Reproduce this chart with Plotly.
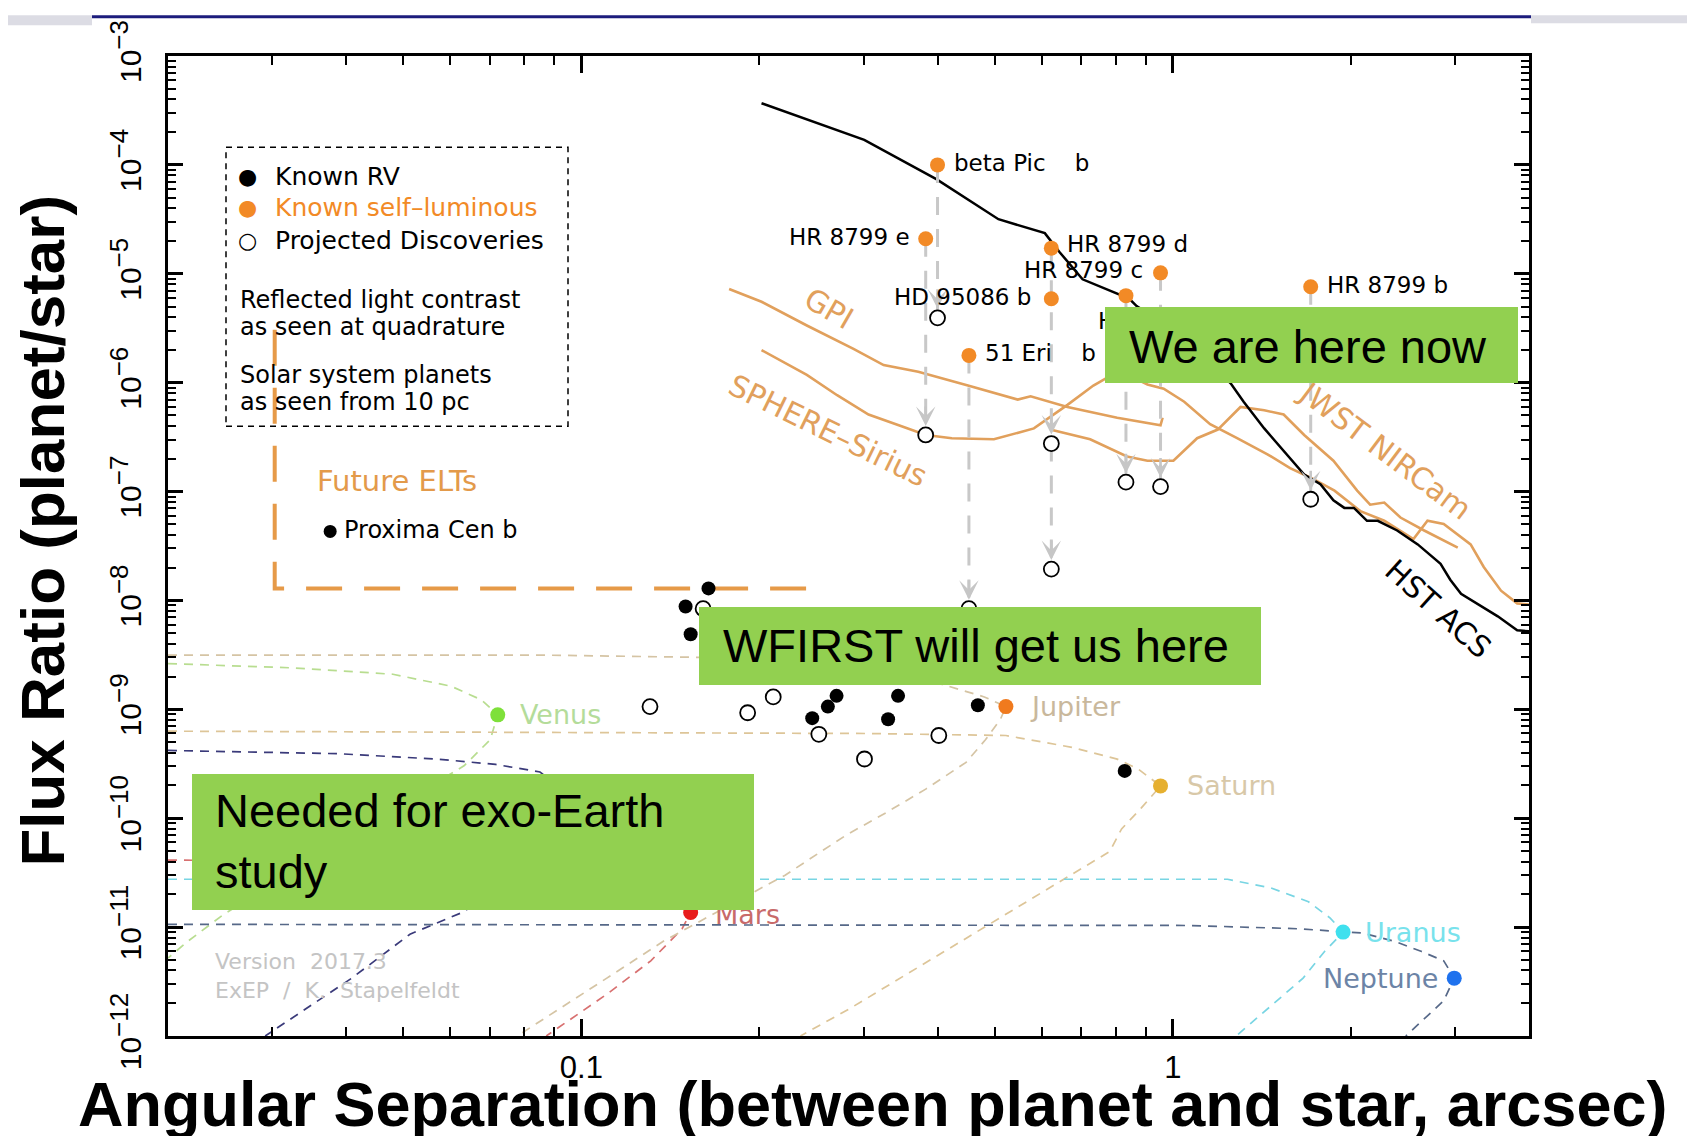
import numpy as np
import plotly.graph_objects as go

# ---------------- data: angular separation (arcsec) and flux ratio (planet/star) ----------------
# Known RV planets (reflected light at quadrature)
rv_sep = [0.164, 0.150, 0.153, 0.270, 0.261, 0.2456, 0.343, 0.330, 0.468, 0.829]
rv_con = [1.29e-8, 8.8e-9, 4.9e-9, 1.33e-9, 1.06e-9, 8.3e-10, 1.33e-9, 8.1e-10, 1.09e-9, 2.72e-10]

# Future ELTs target
prox_name = "Proxima Cen b"
prox_sep = [0.0376]
prox_con = [4.3e-8]

# Known self-luminous planets
sl_names = ["beta Pic\u00a0\u00a0\u00a0\u00a0b", "HR 8799 e", "HR 8799 d", "HR 8799 c",
            "HD 95086 b", "HR 8799 b", "HIP 65426 b", "51 Eri\u00a0\u00a0\u00a0\u00a0b"]
sl_sep = [0.40, 0.382, 0.623, 0.953, 0.623, 1.71, 0.833, 0.452]
sl_con = [1.0e-4, 2.1e-5, 1.72e-5, 1.02e-5, 5.9e-6, 7.6e-6, 6.3e-6, 1.78e-6]

# Projected discoveries (open circles)
proj_sep = [0.40, 0.382, 0.623, 0.623, 0.452, 0.833, 0.953, 1.71,
            0.1606, 0.1306, 0.191, 0.211, 0.252, 0.301, 0.402]
proj_con = [3.94e-6, 3.31e-7, 2.76e-7, 1.94e-8, 8.4e-9, 1.22e-7, 1.11e-7, 8.5e-8,
            8.4e-9, 1.06e-9, 9.3e-10, 1.30e-9, 5.9e-10, 3.5e-10, 5.75e-10]

# Drops from self-luminous contrast to reflected-light contrast
drop_sep = [0.40, 0.382, 0.623, 0.623, 0.452, 0.833, 0.953, 1.71]
drop_from = [1.0e-4, 2.1e-5, 1.72e-5, 2.76e-7, 1.78e-6, 6.3e-6, 1.02e-5, 7.6e-6]
drop_to = [3.94e-6, 3.31e-7, 2.76e-7, 1.94e-8, 8.4e-9, 1.22e-7, 1.11e-7, 8.5e-8]

# Solar system planets seen from 10 pc
planet_names = ["Venus", "Earth", "Mars", "Jupiter", "Saturn", "Uranus", "Neptune"]
planet_sep = [0.0722, 0.100, 0.153, 0.522, 0.953, 1.94, 2.99]
planet_con = [8.9e-10, 1.0e-10, 1.36e-11, 1.06e-9, 1.98e-10, 9.0e-12, 3.4e-12]

venus_sep = [0.02, 0.0327, 0.048, 0.0602, 0.0678, 0.0722, 0.0701, 0.0634, 0.0248, 0.0216, 0.02]
venus_con = [2.63e-9, 2.40e-9, 2.10e-9, 1.63e-9, 1.22e-9, 8.9e-10, 5.25e-10, 3.05e-10, 1.30e-11, 7.4e-12, 5.2e-12]
earth_sep = [0.02, 0.039, 0.0571, 0.0716, 0.0851, 0.0969, 0.100, 0.0634, 0.0513, 0.0409, 0.0292]
earth_con = [4.19e-10, 3.91e-10, 3.49e-10, 3.12e-10, 2.66e-10, 1.58e-10, 1.0e-10, 1.39e-11, 8.6e-12, 3.4e-12, 1.0e-12]
mars_sep = [0.02, 0.0855, 0.130, 0.1477, 0.153, 0.148, 0.131, 0.1104, 0.0872]
mars_con = [4.13e-11, 3.86e-11, 2.57e-11, 1.63e-11, 1.36e-11, 9.66e-12, 4.9e-12, 2.42e-12, 1.0e-12]
jup_sep = [0.02, 0.0855, 0.198, 0.302, 0.405, 0.48, 0.522, 0.511, 0.482, 0.447, 0.382,
           0.327, 0.280, 0.221, 0.1925, 0.138, 0.1104, 0.0779]
jup_con = [3.15e-9, 3.15e-9, 2.95e-9, 2.41e-9, 1.71e-9, 1.30e-9, 1.06e-9, 8.1e-10, 5.25e-10, 3.26e-10, 1.85e-10,
           1.12e-10, 6.97e-11, 3.0e-11, 2.0e-11, 7.5e-12, 3.4e-12, 1.0e-12]
sat_sep = [0.02, 0.302, 0.522, 0.675, 0.805, 0.872, 0.953, 0.883, 0.819, 0.782, 0.285, 0.2346]
sat_con = [6.3e-10, 6.0e-10, 5.75e-10, 4.48e-10, 3.49e-10, 2.85e-10, 1.98e-10, 1.23e-10, 7.98e-11, 4.95e-11, 1.8e-12, 1.0e-12]
ura_sep = [0.02, 1.237, 1.464, 1.695, 1.845, 1.94, 1.806, 1.66, 1.279]
ura_con = [2.75e-11, 2.75e-11, 2.29e-11, 1.71e-11, 1.21e-11, 9.0e-12, 6.0e-12, 3.4e-12, 1.0e-12]
nep_sep = [0.02, 1.067, 1.626, 2.093, 2.375, 2.627, 2.870, 2.99, 2.870, 2.476]
nep_con = [1.06e-11, 1.035e-11, 9.66e-12, 8.83e-12, 7.37e-12, 6.0e-12, 4.9e-12, 3.4e-12, 2.11e-12, 1.0e-12]

# Future ELTs region boundary
elt_sep = [0.0303, 0.0303, 0.2446]
elt_con = [3.06e-6, 1.29e-8, 1.29e-8]

# Instrument contrast curves
hst_sep = [0.2016, 0.3007, 0.3988, 0.507, 0.6074, 0.644, 0.7035, 0.8433, 0.8683, 1.067, 1.252, 1.317,
           1.427, 1.539, 1.667, 1.776, 1.868, 1.949, 2.023, 2.129, 2.22, 2.394, 2.594, 2.835, 2.944,
           3.07, 3.269, 3.542, 3.82, 4.0]
hst_con = [3.68e-4, 1.70e-4, 7.35e-5, 3.17e-5, 2.36e-5, 1.57e-5, 8.9e-6, 5.92e-6, 5.05e-6, 2.44e-6, 9.85e-7, 6.69e-7,
           3.8e-7, 2.36e-7, 1.43e-7, 1.17e-7, 8.3e-8, 7.08e-8, 7.08e-8, 5.39e-8, 5.39e-8, 4.39e-8, 3.27e-8, 2.17e-8, 1.55e-8,
           1.15e-8, 9.4e-9, 7.15e-9, 5.32e-9, 5.2e-9]
gpi_sep = [0.1777, 0.2016, 0.2405, 0.2884, 0.3243, 0.3711, 0.4503, 0.5466, 0.5747, 0.6633, 0.805, 0.9173, 0.953, 0.9607]
gpi_con = [7.26e-6, 5.53e-6, 3.35e-6, 2.04e-6, 1.45e-6, 1.26e-6, 9.41e-7, 7.0e-7, 7.5e-7, 5.98e-7, 4.76e-7, 4.25e-7, 4.06e-7, 4.76e-7]
sphere_sep = [0.2016, 0.2405, 0.2706, 0.3058, 0.3440, 0.3823, 0.4229, 0.4982, 0.5821, 0.6633, 0.7338, 0.8119,
              0.9057, 0.9647, 1.045, 1.156, 1.284, 1.445, 1.578, 1.71, 1.876, 2.075, 2.277, 2.551, 2.694,
              2.870, 3.187, 3.354, 3.587, 3.82, 4.0]
sphere_con = [1.99e-6, 1.18e-6, 7.67e-7, 5.10e-7, 4.06e-7, 3.31e-7, 3.09e-7, 3.02e-7, 3.80e-7, 6.25e-7, 9.41e-7, 1.29e-6,
              9.62e-7, 8.79e-7, 6.69e-7, 4.16e-7, 3.09e-7, 2.20e-7, 1.64e-7, 1.34e-7, 1.02e-7, 6.61e-8, 5.39e-8, 3.66e-8, 5.39e-8,
              5.03e-8, 3.27e-8, 2.03e-8, 1.23e-8, 9.4e-9, 9.17e-9]
jwst_sep = [0.620, 0.7246, 0.8363, 0.9057, 1.002, 1.099, 1.191, 1.301, 1.427, 1.539, 1.667, 1.868,
            2.049, 2.155, 2.277, 2.425, 2.660, 3.031]
jwst_con = [3.71e-7, 3.02e-7, 2.10e-7, 1.92e-7, 1.92e-7, 3.09e-7, 3.71e-7, 5.98e-7, 5.58e-7, 5.10e-7, 3.31e-7, 1.92e-7,
            1.02e-7, 7.57e-8, 7.93e-8, 5.77e-8, 4.39e-8, 3.05e-8]

# Axis ticks
x_major = [0.1, 1.0]
x_ticktext = ["0.1", "1"]
y_major = [1e-12, 1e-11, 1e-10, 1e-9, 1e-8, 1e-7, 1e-6, 1e-5, 1e-4, 1e-3]
y_exponents = ["−12", "−11", "−10", "−9", "−8", "−7", "−6", "−5", "−4", "−3"]

# ---------------- helpers (window pixel -> paper) ----------------
PAGE_OFF = 8                      # default page body margin
W, H = 1695 - 2 * PAGE_OFF, 1144 - 2 * PAGE_OFF
L, R, T, B = 168, 1529, 49, 1036  # plot frame in window pixels


def fx(p):
    return (p - L) / (R - L)


def fy(p):
    return (B - p) / (B - T)


FONT = "DejaVu Sans"
ARIAL = "Liberation Sans, Arial"
ORANGE_CURVE = "#E1A05C"
SL_ORANGE = "#F28A26"

fig = go.Figure()


def add_line(x, y, color, width, dash=None):
    fig.add_trace(go.Scatter(x=x, y=y, mode="lines",
                             line=dict(color=color, width=width, dash=dash),
                             hoverinfo="skip", showlegend=False))


# planet phase curves
curve_styles = [
    (venus_sep, venus_con, "#B8DD90"),
    (earth_sep, earth_con, "#3A3A7A"),
    (mars_sep, mars_con, "#D87070"),
    (jup_sep, jup_con, "#D5C4A4"),
    (sat_sep, sat_con, "#DDC598"),
    (ura_sep, ura_con, "#78D5E3"),
    (nep_sep, nep_con, "#566888"),
]
for xs, ys, col in curve_styles:
    add_line(xs, ys, col, 1.7, "9px,7px")

# future ELTs region
add_line(elt_sep, elt_con, "#E69A48", 4, "36px,22px")

# instrument curves
add_line(gpi_sep, gpi_con, ORANGE_CURVE, 2.6)
add_line(sphere_sep, sphere_con, ORANGE_CURVE, 2.6)
add_line(jwst_sep, jwst_con, ORANGE_CURVE, 2.6)
add_line(hst_sep, hst_con, "black", 2.5)

# gray drops
for s, f, t in zip(drop_sep, drop_from, drop_to):
    add_line([s, s], [f, t], "#C8C8C8", 3, "18px,14px")

# markers
fig.add_trace(go.Scatter(x=proj_sep, y=proj_con, mode="markers",
                         marker=dict(symbol="circle", size=15, color="white",
                                     line=dict(color="black", width=1.8)),
                         hoverinfo="skip", showlegend=False))
fig.add_trace(go.Scatter(x=rv_sep, y=rv_con, mode="markers",
                         marker=dict(size=14, color="black"), hoverinfo="skip", showlegend=False))
fig.add_trace(go.Scatter(x=prox_sep, y=prox_con, mode="markers",
                         marker=dict(size=13, color="black"), hoverinfo="skip", showlegend=False))
fig.add_trace(go.Scatter(x=sl_sep, y=sl_con, mode="markers",
                         marker=dict(size=15, color=SL_ORANGE), hoverinfo="skip", showlegend=False))
planet_colors = ["#7EE03A", "#2E56C8", "#E81C1C", "#F07A1E", "#E6B030", "#3FE0EE", "#1F72EE"]
fig.add_trace(go.Scatter(x=planet_sep, y=planet_con, mode="markers",
                         marker=dict(size=15, color=planet_colors), hoverinfo="skip", showlegend=False))

ann = []

# arrowheads onto projected discoveries
for s, t in zip(drop_sep, drop_to):
    ann.append(dict(x=np.log10(s), y=np.log10(t), xref="x", yref="y", text="",
                    showarrow=True, ax=0, ay=-30, arrowhead=3, arrowsize=1.25, arrowwidth=2.6,
                    arrowcolor="#C6C6C6", standoff=9))

# self-luminous labels
sl_label_pos = [("left", 14, 2), ("right", -14, 2), ("left", 14, 4), ("right", -16, 3),
                ("right", -18, 2), ("left", 14, 2), ("left", -30, -25), ("left", 14, 2)]
for name, s, c, (anc, dx, dy) in zip(sl_names, sl_sep, sl_con, sl_label_pos):
    ann.append(dict(x=np.log10(s), y=np.log10(c), xref="x", yref="y", text=name, showarrow=False,
                    xanchor=anc, yanchor="middle", xshift=dx, yshift=dy,
                    font=dict(family=FONT, size=23, color="black")))

# Proxima label
ann.append(dict(x=np.log10(prox_sep[0]), y=np.log10(prox_con[0]), xref="x", yref="y", text=prox_name,
                showarrow=False, xanchor="left", yanchor="middle", xshift=12, yshift=1,
                font=dict(family=FONT, size=24, color="black")))

# planet labels
planet_label_colors = ["#B4DC9A", "#6070B0", "#C86A6A", "#C9B89C", "#D8C8A8", "#78E2EC", "#6C84A6"]
planet_label_pos = [("left", 20, 0), ("left", 20, 0), ("left", 22, -2), ("left", 22, 0),
                    ("left", 24, 0), ("left", 20, 0), ("right", -14, 0)]
for name, s, c, col, (anc, dx, dy) in zip(planet_names, planet_sep, planet_con,
                                           planet_label_colors, planet_label_pos):
    ann.append(dict(x=np.log10(s), y=np.log10(c), xref="x", yref="y", text=name, showarrow=False,
                    xanchor=anc, yanchor="middle", xshift=dx, yshift=dy,
                    font=dict(family=FONT, size=27, color=col)))

# instrument labels
inst_labels = [("GPI", 829, 303, 30, ORANGE_CURVE), ("SPHERE\u2013Sirius", 828, 426, 26, ORANGE_CURVE),
               ("JWST NIRCam", 1385, 446, 37, ORANGE_CURVE), ("HST ACS", 1438, 605, 42, "black")]
for txt, px_, py_, ang, col in inst_labels:
    ann.append(dict(x=fx(px_), y=fy(py_), xref="paper", yref="paper", text=txt, showarrow=False,
                    textangle=ang, xanchor="center", yanchor="middle",
                    font=dict(family=FONT, size=30, color=col)))

# legend block
legend_rows = [("\u25CF", "black", "Known RV", "black", 170),
               ("\u25CF", SL_ORANGE, "Known self\u2013luminous", SL_ORANGE, 202),
               ("\u25CB", "black", "Projected Discoveries", "black", 235)]
for sym, scol, txt, tcol, py_ in legend_rows:
    ann.append(dict(x=fx(247), y=fy(py_), xref="paper", yref="paper", text=sym, showarrow=False,
                    xanchor="center", yanchor="middle", font=dict(family=FONT, size=22, color=scol)))
    ann.append(dict(x=fx(273), y=fy(py_), xref="paper", yref="paper", text=txt, showarrow=False,
                    xanchor="left", yanchor="middle", font=dict(family=FONT, size=25, color=tcol)))
legend_notes = [("Reflected light contrast", 295), ("as seen at quadrature", 322),
                ("Solar system planets", 370), ("as seen from 10 pc", 397)]
for txt, py_ in legend_notes:
    ann.append(dict(x=fx(238), y=fy(py_), xref="paper", yref="paper", text=txt, showarrow=False,
                    xanchor="left", yanchor="middle", font=dict(family=FONT, size=24, color="black")))

ann.append(dict(x=fx(315), y=fy(477), xref="paper", yref="paper", text="Future ELTs", showarrow=False,
                xanchor="left", yanchor="middle", font=dict(family=FONT, size=29, color="#E39A4A")))

ann.append(dict(x=fx(213), y=fy(976), xref="paper", yref="paper",
                text="Version\u00a0\u00a02017.3<br>ExEP\u00a0\u00a0/\u00a0\u00a0K.\u00a0\u00a0Stapelfeldt",
                showarrow=False, xanchor="left", yanchor="middle", align="left",
                font=dict(family=FONT, size=22, color="#C4C4C4")))

# axis titles
ann.append(dict(x=fx(872), y=fy(1104), xref="paper", yref="paper",
                text="<b>Angular Separation (between planet and star, arcsec)</b>", showarrow=False,
                xanchor="center", yanchor="middle", font=dict(family=ARIAL, size=63, color="black")))
ann.append(dict(x=fx(43), y=fy(527), xref="paper", yref="paper",
                text="<b>Flux Ratio (planet/star)</b>", showarrow=False, textangle=-90,
                xanchor="center", yanchor="middle", font=dict(family=ARIAL, size=62, color="black")))

# green call-out boxes (background first, then text)
GREEN = "#92D050"
boxes = [(1105, 302, 413, 76), (699, 604, 562, 78), (192, 772, 562, 136)]
for bx, by, bw, bh in boxes:
    ann.append(dict(x=fx(bx), y=fy(by), xref="paper", yref="paper", text="\u00a0", showarrow=False,
                    xanchor="left", yanchor="top", width=bw, height=bh, bgcolor=GREEN,
                    borderpad=0, borderwidth=0, font=dict(size=10)))
box_texts = [("We are here now", 1308, 342, "center"),
             ("WFIRST will get us here", 976, 643, "center"),
             ("Needed for exo-Earth<br>study", 213, 840, "left")]
for txt, px_, py_, anc in box_texts:
    ann.append(dict(x=fx(px_), y=fy(py_), xref="paper", yref="paper", text=txt, showarrow=False,
                    xanchor=anc, yanchor="middle", align="left",
                    font=dict(family=ARIAL, size=47, color="black")))

shapes = [
    dict(type="rect", xref="paper", yref="paper", x0=fx(226), x1=fx(568), y0=fy(422), y1=fy(141),
         line=dict(color="black", width=1.5, dash="6px,5px"), fillcolor="rgba(0,0,0,0)"),
    dict(type="rect", xref="paper", yref="paper", x0=fx(0), x1=fx(92), y0=fy(PAGE_OFF + 10), y1=fy(PAGE_OFF),
         line=dict(width=0), fillcolor="#DCDCE4"),
    dict(type="rect", xref="paper", yref="paper", x0=fx(1531), x1=fx(1695), y0=fy(PAGE_OFF + 8), y1=fy(PAGE_OFF),
         line=dict(width=0), fillcolor="#DCDCE4"),
    dict(type="rect", xref="paper", yref="paper", x0=fx(92), x1=fx(1531), y0=fy(PAGE_OFF + 3), y1=fy(PAGE_OFF),
         line=dict(width=0), fillcolor="#1C1C7C"),
]

x_minor = [m * 10.0 ** e for e in (-2, -1, 0) for m in range(2, 10) if 0.02 <= m * 10.0 ** e <= 4.0]
y_minor = [m * 10.0 ** e for e in range(-12, -3) for m in range(2, 10)]
y_ticktext = ["10<sup><span style='font-size:26px'>%s</span></sup>" % e for e in y_exponents]

fig.update_layout(
    width=W, height=H,
    margin=dict(l=L - PAGE_OFF, r=W - (R - PAGE_OFF), t=T - PAGE_OFF, b=H - (B - PAGE_OFF)),
    paper_bgcolor="white", plot_bgcolor="white", showlegend=False,
    annotations=ann, shapes=shapes,
    xaxis=dict(type="log", range=[np.log10(0.02), np.log10(4.0)], tickmode="array",
               tickvals=x_major, ticktext=x_ticktext, ticks="inside", ticklen=17, tickwidth=2.5,
               tickcolor="black", showline=True, linewidth=3, linecolor="black", mirror="allticks",
               showgrid=False, zeroline=False, ticklabelstandoff=2,
               tickfont=dict(family=ARIAL, size=31, color="black"),
               minor=dict(tickmode="array", tickvals=x_minor, ticks="inside", ticklen=9,
                          tickwidth=2, tickcolor="black", showgrid=False)),
    yaxis=dict(type="log", range=[-12, -3], tickmode="array", tickvals=y_major, ticktext=y_ticktext,
               tickangle=-90, ticks="inside", ticklen=15, tickwidth=2.5, tickcolor="black",
               showline=True, linewidth=3, linecolor="black", mirror="allticks",
               showgrid=False, zeroline=False, ticklabelstandoff=12,
               tickfont=dict(family=ARIAL, size=30, color="black"),
               minor=dict(tickmode="array", tickvals=y_minor, ticks="inside", ticklen=8,
                          tickwidth=2, tickcolor="black", showgrid=False)),
)

fig.write_html("out.html")
